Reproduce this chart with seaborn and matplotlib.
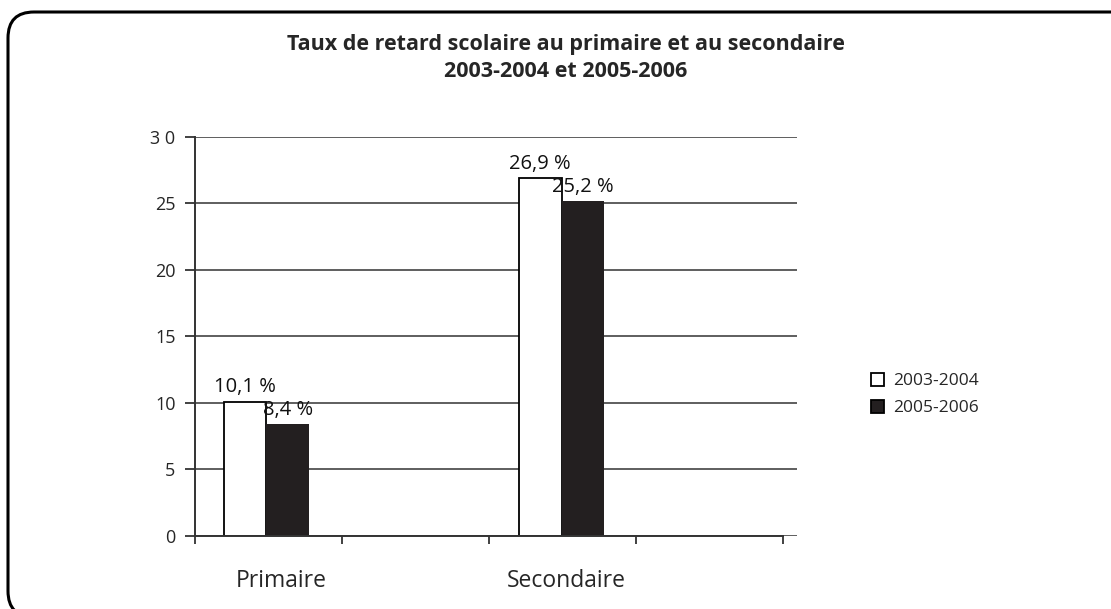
import seaborn as sns
import pandas as pd
import matplotlib.pyplot as plt
from matplotlib.patches import PathPatch
from matplotlib.path import Path
from matplotlib.transforms import IdentityTransform

niveaux = ["Primaire", "Secondaire"]
annees = ["2003-2004", "2005-2006"]
taux_2003 = [10.1, 26.9]
taux_2005 = [8.4, 25.2]
yticks = [0, 5, 10, 15, 20, 25, 30]
ytick_labels = ["0", "5", "10", "15", "20", "25", "3 0"]

df = pd.DataFrame({
    "niveau": niveaux * 2,
    "annee": [annees[0]] * 2 + [annees[1]] * 2,
    "taux": taux_2003 + taux_2005,
})

sns.set_style("white")
plt.rcParams["font.family"] = ["Open Sans", "DejaVu Sans"]

fig = plt.figure(figsize=(11.11, 6.09), dpi=100)
ax = fig.add_axes([0.1755, 0.1199, 0.5419, 0.6552])

couleurs = {"2003-2004": "white", "2005-2006": "#231f20"}
sns.barplot(data=df, x="niveau", y="taux", hue="annee", order=niveaux,
            hue_order=annees, palette=couleurs, width=0.29, ax=ax,
            saturation=1)

for cont, annee in zip(ax.containers, annees):
    for bar in cont:
        if annee == "2003-2004":
            bar.set_edgecolor("black")
            bar.set_linewidth(1.3)
        else:
            bar.set_edgecolor("#231f20")
            bar.set_linewidth(0)
    labels = [f"{b.get_height():.1f} %".replace(".", ",") for b in cont]
    ax.bar_label(cont, labels=labels, padding=3, fontsize=14.5, color="#111")

ax.set_ylim(0, 30)
ax.set_xlim(-0.242, 1.798)
ax.set_yticks(yticks)
ax.set_yticklabels(ytick_labels, fontsize=13)
ax.yaxis.grid(True, color="#333333", linewidth=1.1)
ax.set_axisbelow(True)

# séparations entre catégories (style Excel)
ax.set_xticks([-0.242, 0.256, 0.754, 1.253, 1.751])
ax.set_xticklabels([])
ax.set_xticks([0.05, 1.015], minor=True)
ax.set_xticklabels(niveaux, minor=True, fontsize=16.5)
ax.tick_params(axis="x", which="minor", length=0, pad=24)
ax.tick_params(axis="x", which="major", length=6, width=1.3, color="#333333",
               direction="out", bottom=True)
ax.tick_params(axis="y", length=7, width=1.3, color="#333333", left=True, pad=7)
ax.set_xlabel("")
ax.set_ylabel("")

for s in ["top", "right"]:
    ax.spines[s].set_visible(False)
for s in ["left", "bottom"]:
    ax.spines[s].set_color("#333333")
    ax.spines[s].set_linewidth(1.4)
ax.spines["bottom"].set_bounds(-0.242, 1.751)

leg = ax.legend(loc="center left", bbox_to_anchor=(0.770, 0.352),
                bbox_transform=fig.transFigure, frameon=False,
                fontsize=12.5, handlelength=0.75, handleheight=0.75,
                handletextpad=0.5, labelspacing=0.6)
for h in leg.legend_handles:
    h.set_edgecolor("black")
    h.set_linewidth(1.3)

fig.text(0.509, 0.905, "Taux de retard scolaire au primaire et au secondaire\n2003-2004 et 2005-2006",
         ha="center", va="center", fontsize=15.5, fontweight="bold", linespacing=1.35)

# cadre arrondi ouvert à droite (pixels)
r = 26
x0, yb, yt = 8, -8, 597
sommets = [(1111, yb), (x0 + r, yb), (x0, yb), (x0, yb + r),
           (x0, yt - r), (x0, yt), (x0 + r, yt), (1111, yt)]
codes = [Path.MOVETO, Path.LINETO, Path.CURVE3, Path.CURVE3,
         Path.LINETO, Path.CURVE3, Path.CURVE3, Path.LINETO]
cadre = PathPatch(Path(sommets, codes), transform=IdentityTransform(),
                  fill=False, edgecolor="black", linewidth=2.2, clip_on=False,
                  capstyle="butt")
fig.patches.append(cadre)

fig.savefig("out.png", dpi=100)
